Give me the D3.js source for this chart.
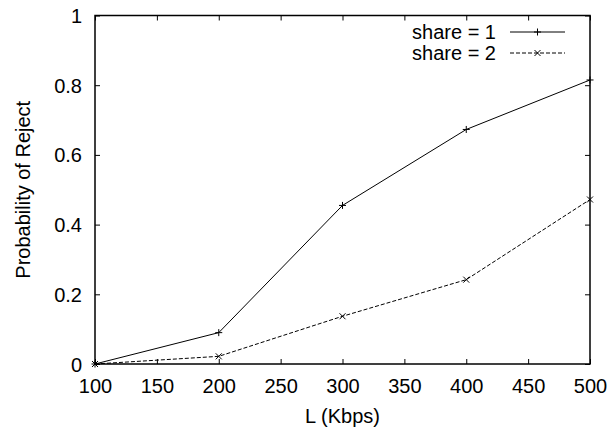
<!DOCTYPE html>
<html><head><meta charset="utf-8">
<script src="https://cdn.jsdelivr.net/npm/d3@7"></script>
<style>body{margin:0;background:#fff}svg{display:block}text{font-family:"Liberation Sans",Arial,Helvetica,sans-serif;fill:#000}</style>
</head><body>
<svg id="c" width="611" height="437"></svg>
<script>
const xValues = [100, 200, 300, 400, 500];
const share1 = [0, 0.09, 0.455, 0.673, 0.815];
const share2 = [0, 0.022, 0.137, 0.242, 0.472];
const seriesNames = ["share = 1", "share = 2"];
const xTicks = [100, 150, 200, 250, 300, 350, 400, 450, 500];
const yTicks = [0, 0.2, 0.4, 0.6, 0.8, 1];
const xLabel = "L (Kbps)";
const yLabel = "Probability of Reject";

const svg = d3.select("#c");
const L = 95, R = 590, T = 15.5, B = 364;
const x = d3.scaleLinear().domain([100, 500]).range([L, R]);
const y = d3.scaleLinear().domain([0, 1]).range([B, T]);

const fs = "20px";
const xb = svg.append("g").attr("transform", `translate(0,${B})`)
  .call(d3.axisBottom(x).tickValues(xTicks).tickSizeInner(-5).tickSizeOuter(0).tickFormat(d3.format("d")));
const xt = svg.append("g").attr("transform", `translate(0,${T})`)
  .call(d3.axisTop(x).tickValues(xTicks).tickSizeInner(-5).tickSizeOuter(0).tickFormat(""));
const yl = svg.append("g").attr("transform", `translate(${L},0)`)
  .call(d3.axisLeft(y).tickValues(yTicks).tickSizeInner(-5).tickSizeOuter(0).tickFormat(d => d === 0 || d === 1 ? d3.format("d")(d) : d3.format(".1f")(d)));
const yr = svg.append("g").attr("transform", `translate(${R},0)`)
  .call(d3.axisRight(y).tickValues(yTicks).tickSizeInner(-5).tickSizeOuter(0).tickFormat(""));
[xb, xt, yl, yr].forEach(g => {
  g.select(".domain").remove();
  g.selectAll(".tick line").attr("stroke", "#000").attr("stroke-width", 1);
  g.selectAll("text").style("font-size", fs).attr("fill", "#000").style("font-family", "Liberation Sans, Arial, sans-serif");
});
xb.selectAll("text").attr("dy", "0.71em").attr("y", 15);
yl.selectAll("text").attr("x", -13).attr("dy", "0.35em");

const legendRows = [
  {name: seriesNames[0], dash: null, marker: "plus"},
  {name: seriesNames[1], dash: "4,2", marker: "cross"}
];

const line = d3.line().x((d, i) => x(xValues[i])).y(d => y(d));
svg.append("path").datum(share1).attr("d", line).attr("fill", "none").attr("stroke", "#000").attr("stroke-width", 1);
svg.append("path").datum(share2).attr("d", line).attr("fill", "none").attr("stroke", "#000").attr("stroke-width", 1).attr("stroke-dasharray", "4,2");

function marker(g, cx, cy, type) {
  if (type === "plus") {
    const s = 3.5;
    g.append("path").attr("d", `M${cx - s},${cy}H${cx + s}M${cx},${cy - s}V${cy + s}`).attr("stroke", "#000").attr("stroke-width", 1);
  } else {
    const t = 3;
    g.append("path").attr("d", `M${cx - t},${cy - t}L${cx + t},${cy + t}M${cx - t},${cy + t}L${cx + t},${cy - t}`).attr("stroke", "#000").attr("stroke-width", 1);
  }
}
const mk = svg.append("g");
share1.forEach((v, i) => marker(mk, x(xValues[i]), y(v), "plus"));
share2.forEach((v, i) => marker(mk, x(xValues[i]), y(v), "cross"));

const lg = svg.append("g");
legendRows.forEach((r, i) => {
  const cy = 32 + i * 21;
  lg.append("text").attr("x", 496).attr("y", cy).attr("dy", "0.35em").attr("text-anchor", "end").style("font-size", fs).text(r.name);
  const ln = lg.append("line").attr("x1", 510).attr("x2", 565).attr("y1", cy).attr("y2", cy).attr("stroke", "#000").attr("stroke-width", 1);
  if (r.dash) ln.attr("stroke-dasharray", r.dash);
  marker(lg, 537.5, cy, r.marker);
});

svg.append("rect").attr("x", L).attr("y", T).attr("width", R - L).attr("height", B - T).attr("fill", "none").attr("stroke", "#000").attr("stroke-width", 1.5);

svg.append("text").attr("x", (L + R) / 2).attr("y", 423).attr("text-anchor", "middle").style("font-size", fs).text(xLabel);
svg.append("text").attr("transform", `translate(30,${(T + B) / 2}) rotate(-90)`).attr("text-anchor", "middle").style("font-size", fs).text(yLabel);
</script>
</body></html>
